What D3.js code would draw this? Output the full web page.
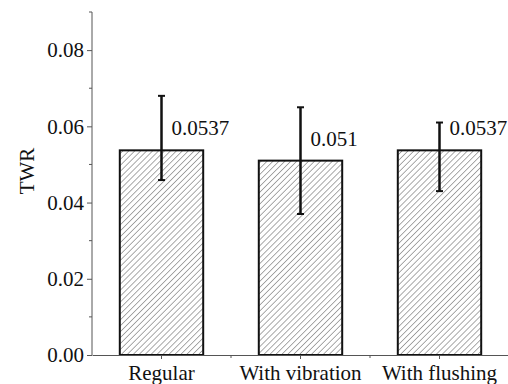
<!DOCTYPE html>
<html>
<head>
<meta charset="utf-8">
<script src="https://cdn.jsdelivr.net/npm/d3@7"></script>
<style>
  body { margin: 0; background: #fff; }
  text { font-family: "Liberation Serif", Tinos, "Times New Roman", Times, "DejaVu Serif", serif; }
</style>
</head>
<body>
<div id="chart"></div>
<script>
const categories = ["Regular", "With vibration", "With flushing"];
const values = [0.0537, 0.051, 0.0537];
const errLow = [0.0459, 0.037, 0.043];
const errHigh = [0.068, 0.065, 0.061];
const valueLabels = ["0.0537", "0.051", "0.0537"];
const yTicks = [0, 0.02, 0.04, 0.06, 0.08];
const yMinorTicks = [0.01, 0.03, 0.05, 0.07, 0.09];

const width = 508, height = 384;
const axisColor = "#555";

const svg = d3.select("#chart").append("svg")
    .attr("width", width)
    .attr("height", height);

// hatch pattern for bars
const hs = 4.2;
const defs = svg.append("defs");
const pat = defs.append("pattern")
    .attr("id", "hatch")
    .attr("patternUnits", "userSpaceOnUse")
    .attr("width", hs)
    .attr("height", hs)
    .attr("patternTransform", "rotate(45)");
pat.append("rect").attr("width", hs).attr("height", hs).attr("fill", "#fff");
pat.append("line")
    .attr("x1", 0).attr("y1", 0).attr("x2", 0).attr("y2", hs)
    .attr("stroke", "#444")
    .attr("stroke-width", 0.9);

const x = d3.scaleBand()
    .domain(categories)
    .range([92, 509])
    .paddingInner(0.4)
    .paddingOuter(0.2);

const y = d3.scaleLinear()
    .domain([0, 0.09])
    .range([355, 12]);

// bars
svg.append("g").selectAll("rect")
    .data(categories)
    .join("rect")
    .attr("x", d => x(d))
    .attr("y", (d, i) => y(values[i]))
    .attr("width", x.bandwidth())
    .attr("height", (d, i) => y(0) - y(values[i]))
    .attr("fill", "url(#hatch)")
    .attr("stroke", "#111")
    .attr("stroke-width", 2);

// error bars
const eb = svg.append("g").attr("stroke", "#111").attr("stroke-width", 2.5);
categories.forEach((c, i) => {
    const cx = x(c) + x.bandwidth() / 2;
    eb.append("line").attr("x1", cx).attr("x2", cx)
        .attr("y1", y(errLow[i])).attr("y2", y(errHigh[i]));
    eb.append("line").attr("x1", cx - 3.5).attr("x2", cx + 3.5)
        .attr("y1", y(errLow[i])).attr("y2", y(errLow[i])).attr("stroke-width", 2);
    eb.append("line").attr("x1", cx - 3.5).attr("x2", cx + 3.5)
        .attr("y1", y(errHigh[i])).attr("y2", y(errHigh[i])).attr("stroke-width", 2);
});

// value labels
svg.append("g").selectAll("text")
    .data(categories)
    .join("text")
    .attr("x", d => x(d) + x.bandwidth() / 2 + 10)
    .attr("y", (d, i) => y(values[i]) - 15)
    .style("font-size", "21px")
    .attr("fill", "#111")
    .text((d, i) => valueLabels[i]);

// y axis
const yAxis = svg.append("g")
    .attr("transform", "translate(92,0)")
    .call(d3.axisLeft(y).tickValues(yTicks).tickFormat(d3.format(".2f")).tickSize(5).tickSizeOuter(0));
yAxis.attr("font-family", null);
yAxis.select(".domain").attr("stroke", axisColor).attr("d", "M0," + y(0) + "V" + y(0.09));
yAxis.selectAll(".tick line").attr("stroke", axisColor);
yAxis.selectAll(".tick text")
    .attr("x", -8)
    .style("font-size", "21px")
    .attr("fill", "#111");

svg.append("g").selectAll("line")
    .data(yMinorTicks)
    .join("line")
    .attr("x1", 89).attr("x2", 92)
    .attr("y1", d => y(d)).attr("y2", d => y(d))
    .attr("stroke", axisColor);

// x axis
const xAxis = svg.append("g")
    .attr("transform", "translate(0," + y(0) + ")")
    .call(d3.axisBottom(x).tickSize(4).tickSizeOuter(0).tickPadding(6));
xAxis.attr("font-family", null);
xAxis.select(".domain").attr("stroke", axisColor);
xAxis.selectAll(".tick line").attr("stroke", axisColor);
xAxis.selectAll(".tick text")
    .style("font-size", "21px")
    .attr("fill", "#111");

svg.append("g").selectAll("line")
    .data(categories.slice(1))
    .join("line")
    .attr("x1", d => x(d) - x.step() * x.paddingInner() / 2)
    .attr("x2", d => x(d) - x.step() * x.paddingInner() / 2)
    .attr("y1", y(0)).attr("y2", y(0) + 3)
    .attr("stroke", axisColor);

// y label
svg.append("text")
    .attr("transform", "translate(34,171) rotate(-90)")
    .attr("text-anchor", "middle")
    .style("font-size", "21px")
    .attr("fill", "#111")
    .text("TWR");
</script>
</body>
</html>
